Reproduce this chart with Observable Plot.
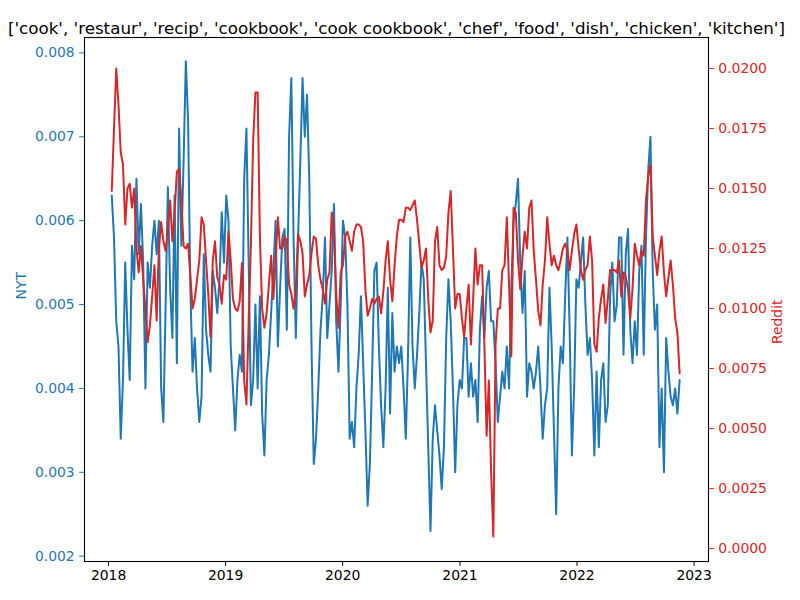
<!DOCTYPE html>
<html>
<head>
<meta charset="utf-8">
<script src="https://cdn.jsdelivr.net/npm/d3@7"></script>
<script src="https://cdn.jsdelivr.net/npm/@observablehq/plot@0.6"></script>
<style>
  body { margin: 0; background: #fff; }
</style>
</head>
<body>
<div id="chart"></div>
<script>
const title = "['cook', 'restaur', 'recip', 'cookbook', 'cook cookbook', 'chef', 'food', 'dish', 'chicken', 'kitchen']";

// weekly samples, first one on 2018-01-11
const startDate = new Date(2018, 0, 11);
const stepDays = 7;

const nyt = [
  .0063, .0058, .0048, .0045, .0034, .0041, .0055, .0047, .0041, .0057,
  .0053, .0065, .0056, .0062, .0055, .0040, .0055, .0052, .0057, .0060,
  .0056, .0060, .0040, .0036, .0050, .0064, .0052, .0046, .0063, .0043,
  .0071, .0057, .0067, .0079, .0072, .0052, .0042, .0046, .0040, .0036,
  .0039, .0056, .0047, .0044, .0042, .0054, .0052, .0049, .0053, .0061,
  .0055, .0063, .0060, .0045, .0040, .0035, .0041, .0044, .0042, .0065,
  .0071, .0055, .0038, .0041, .0050, .0040, .0051, .0037, .0032, .0041,
  .0044, .0049, .0054, .0060, .0045, .0052, .0058, .0059, .0047, .0070,
  .0077, .0058, .0046, .0058, .0067, .0077, .0070, .0075, .0065, .0045,
  .0031, .0034, .0040, .0047, .0051, .0058, .0046, .0050, .0054, .0062,
  .0048, .0042, .0050, .0060, .0058, .0050, .0034, .0036, .0033, .0040,
  .0044, .0051, .0043, .0035, .0026, .0031, .0042, .0054, .0055, .0045,
  .0038, .0033, .0040, .0052, .0037, .0049, .0042, .0045, .0043, .0045,
  .0040, .0034, .0044, .0058, .0045, .0040, .0044, .0049, .0055, .0053,
  .0043, .0033, .0023, .0034, .0038, .0035, .0032, .0028, .0033, .0046,
  .0053, .0048, .0040, .0030, .0038, .0041, .0040, .0046, .0046, .0039,
  .0043, .0039, .0041, .0036, .0047, .0051, .0046, .0052, .0054, .0048,
  .0048, .0043, .0036, .0039, .0042, .0040, .0045, .0040, .0052, .0060,
  .0062, .0065, .0055, .0049, .0054, .0039, .0043, .0042, .0040, .0042,
  .0045, .0040, .0034, .0038, .0040, .0052, .0045, .0035, .0025, .0040,
  .0045, .0043, .0051, .0058, .0047, .0032, .0040, .0053, .0052, .0055,
  .0058, .0050, .0044, .0046, .0041, .0032, .0042, .0033, .0041, .0043,
  .0036, .0038, .0051, .0055, .0048, .0050, .0058, .0058, .0044, .0056,
  .0059, .0047, .0043, .0048, .0044, .0054, .0057, .0044, .0058, .0066,
  .0070, .0054, .0047, .0050, .0033, .0040, .0030, .0046, .0042, .0039,
  .0038, .0040, .0037, .0041
];

const reddit = [
  .0149, .0175, .0200, .0185, .0165, .0160, .0135, .0150, .0152, .0142,
  .0150, .0125, .0115, .0126, .0112, .0100, .0086, .0093, .0105, .0118,
  .0095, .0125, .0136, .0128, .0124, .0133, .0145, .0128, .0140, .0157,
  .0158, .0145, .0126, .0125, .0127, .0114, .0100, .0104, .0112, .0120,
  .0138, .0135, .0120, .0106, .0088, .0120, .0128, .0113, .0110, .0102,
  .0114, .0112, .0132, .0120, .0104, .0100, .0099, .0103, .0119, .0070,
  .0060, .0095, .0127, .0170, .0190, .0190, .0130, .0100, .0092, .0098,
  .0110, .0122, .0104, .0120, .0138, .0125, .0125, .0130, .0128, .0110,
  .0106, .0100, .0108, .0131, .0128, .0123, .0105, .0110, .0114, .0123,
  .0130, .0129, .0118, .0112, .0108, .0102, .0112, .0115, .0140, .0132,
  .0106, .0092, .0115, .0118, .0130, .0132, .0128, .0124, .0132, .0135,
  .0135, .0134, .0128, .0108, .0097, .0100, .0104, .0102, .0104, .0105,
  .0098, .0107, .0120, .0128, .0112, .0103, .0118, .0130, .0137, .0137,
  .0136, .0142, .0142, .0141, .0143, .0145, .0137, .0127, .0117, .0120,
  .0125, .0104, .0090, .0095, .0128, .0134, .0118, .0116, .0117, .0122,
  .0140, .0149, .0125, .0100, .0106, .0106, .0096, .0088, .0100, .0110,
  .0085, .0104, .0125, .0110, .0118, .0118, .0085, .0047, .0070, .0032,
  .0005, .0085, .0100, .0100, .0116, .0118, .0138, .0110, .0080, .0142,
  .0140, .0120, .0108, .0122, .0132, .0125, .0142, .0145, .0124, .0112,
  .0099, .0093, .0110, .0120, .0138, .0127, .0118, .0122, .0118, .0116,
  .0120, .0125, .0127, .0124, .0116, .0124, .0131, .0135, .0125, .0116,
  .0112, .0116, .0118, .0130, .0120, .0085, .0082, .0096, .0104, .0110,
  .0094, .0104, .0116, .0116, .0116, .0115, .0120, .0105, .0115, .0113,
  .0108, .0096, .0108, .0127, .0122, .0118, .0124, .0122, .0145, .0155,
  .0160, .0130, .0122, .0114, .0124, .0130, .0115, .0105, .0113, .0120,
  .0110, .0096, .0090, .0073
];

const xTicks = [2018, 2019, 2020, 2021, 2022, 2023].map(y => new Date(y, 0, 1));
const nytTicks = [0.002, 0.003, 0.004, 0.005, 0.006, 0.007, 0.008];
const redditTicks = [0, 0.0025, 0.005, 0.0075, 0.01, 0.0125, 0.015, 0.0175, 0.02];

const nytDomain = [0.001936, 0.008184];
const redditDomain = [-0.00054, 0.02129];

// reddit values are drawn on the left scale, through this mapping
const toLeft = d3.scaleLinear(redditDomain, nytDomain);

const rows = nyt.map((v, i) => ({
  date: d3.timeDay.offset(startDate, i * stepDays),
  nyt: v,
  reddit: reddit[i]
}));

const blue = "#1f77b4";
const red = "#d62728";

let chart = Plot.plot({
  width: 800,
  height: 600,
  marginLeft: 84,
  marginRight: 92,
  marginTop: 37,
  marginBottom: 39,
  style: { fontFamily: "DejaVu Sans", fontSize: "13.9px", background: "white", color: "black" },
  x: { type: "time", domain: [new Date(2017, 9, 18), new Date(2023, 1, 15)] },
  y: { domain: nytDomain },
  marks: [
    Plot.line(rows, { x: "date", y: "nyt", stroke: blue, strokeWidth: 2 }),
    Plot.line(rows, { x: "date", y: d => toLeft(d.reddit), stroke: red, strokeWidth: 2 }),
    Plot.frame({ stroke: "black", strokeWidth: 1.1 }),
    Plot.axisX(xTicks, { tickSize: 4.9, tickPadding: 4, tickFormat: d3.timeFormat("%Y"), label: null }),
    Plot.axisY(nytTicks, { anchor: "left", color: blue, tickSize: 4.9, tickPadding: 4.9, tickFormat: d3.format(".3f"), label: null }),
    Plot.axisY(redditTicks.map(toLeft), {
      anchor: "right", color: red, tickSize: 4.9, tickPadding: 4.9, label: null,
      tickFormat: d => {
        let r = toLeft.invert(d);
        if (Math.abs(r) < 1e-9) r = 0;
        return r.toFixed(4);
      }
    }),
    Plot.text(["NYT"], { frameAnchor: "left", dx: -63, rotate: -90, fill: blue, fontSize: 13.9 }),
    Plot.text(["Reddit"], { frameAnchor: "right", dx: 69, rotate: -90, fill: red, fontSize: 13.9 }),
    Plot.text([title], { frameAnchor: "top", dy: -15, fontSize: 16.7, fill: "black" })
  ]
});

d3.select('#chart').append(() => chart);
</script>
</body>
</html>
